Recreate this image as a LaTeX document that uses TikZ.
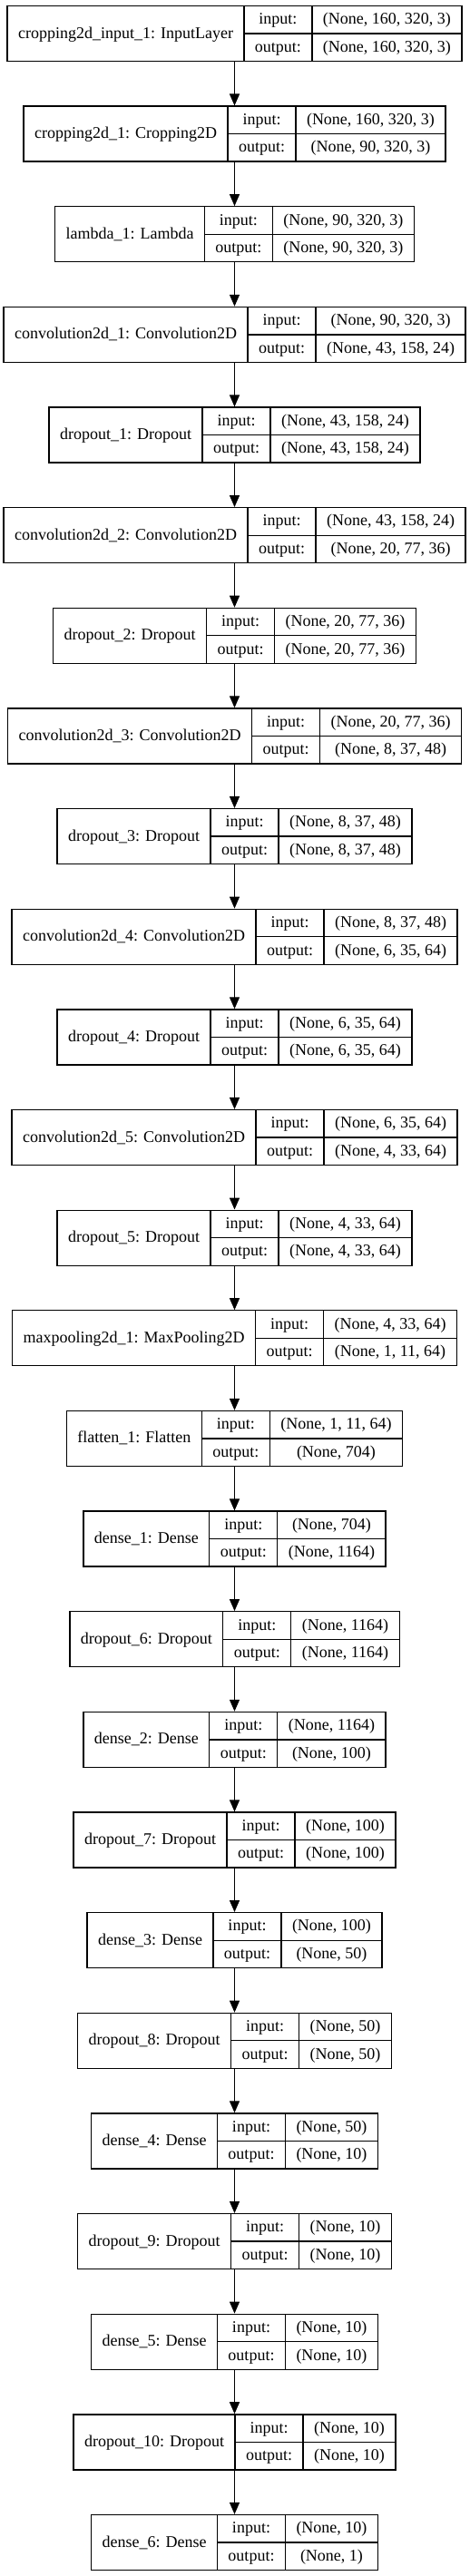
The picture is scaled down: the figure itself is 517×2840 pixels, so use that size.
\documentclass[tikz,border=0pt]{standalone}
\usepackage{fontspec}
\setmainfont{Liberation Serif}
\usetikzlibrary{arrows.meta}
\newlength\wA \newlength\wB \newlength\wC \newlength\wD
\newcommand\lfont{\fontsize{18pt}{22pt}\selectfont}
\newcommand\kpad{24pt}
\tikzset{
  boxshape/.style={draw=black, line width=1.3pt, rectangle, inner sep=0pt},
  divline/.style={draw=black, line width=1.3pt},
  txt/.style={font=\lfont, inner sep=0pt, anchor=base, text=black},
  arr/.style={draw=black, line width=1.3pt, -{Triangle[length=13pt,width=11pt]}}
}
\newcommand\kmeasure[3]{%
 \pgfinterruptpicture
 \setbox0=\hbox{\normalfont\lfont #1}\global\wA=\wd0
 \setbox0=\hbox{\normalfont\lfont output:}\global\wB=\wd0
 \setbox0=\hbox{\normalfont\lfont #2}\global\wC=\wd0
 \setbox0=\hbox{\normalfont\lfont #3}\global\wD=\wd0
 \endpgfinterruptpicture}
\newcommand\klayer[4]{%
 \kmeasure{#2}{#3}{#4}%
 \addtolength\wA{\kpad}%
 \addtolength\wB{\kpad}%
 \ifdim\wD>\wC \wC=\wD\fi\addtolength\wC{\kpad}%
 \pgfmathsetmacro\kx{258.5-(\wA+\wB+\wC)/2}%
 \pgfmathsetmacro\kxa{\kx+\wA}%
 \pgfmathsetmacro\kxb{\kxa+\wB}%
 \pgfmathsetmacro\kxc{\kxb+\wC}%
 \pgfmathsetmacro\ky{6.5+110.64*#1}%
 \pgfmathsetmacro\kyb{\ky+61}%
 \pgfmathsetmacro\kym{\ky+30.5}%
 \pgfmathsetmacro\kw{\kxc-\kx}%
 \node[boxshape, minimum width=\kw pt, minimum height=61pt] (n#1) at ({(\kx+\kxc)/2},\kym) {};
 \draw[divline] (\kxa,\ky) -- (\kxa,\kyb);
 \draw[divline] (\kxb,\ky) -- (\kxb,\kyb);
 \draw[divline] (\kxa,\kym) -- (\kxc,\kym);
 \node[txt] (n#1-name) at ({(\kx+\kxa)/2},\kym+5) {#2};
 \node[txt] (n#1-il) at ({(\kxa+\kxb)/2},\ky+15.25+5) {input:};
 \node[txt] (n#1-ol) at ({(\kxa+\kxb)/2},\ky+45.75+5) {output:};
 \node[txt] (n#1-iv) at ({(\kxb+\kxc)/2},\ky+15.25+5) {#3};
 \node[txt] (n#1-ov) at ({(\kxb+\kxc)/2},\ky+45.75+5) {#4};
}
\begin{document}
\begin{tikzpicture}[x=1pt,y=-1pt]
\useasboundingbox (0,0) rectangle (517,2840);
\klayer{0}{cropping2d\_input\_1: InputLayer}{(None, 160, 320, 3)}{(None, 160, 320, 3)}
\klayer{1}{cropping2d\_1: Cropping2D}{(None, 160, 320, 3)}{(None, 90, 320, 3)}
\klayer{2}{lambda\_1: Lambda}{(None, 90, 320, 3)}{(None, 90, 320, 3)}
\klayer{3}{convolution2d\_1: Convolution2D}{(None, 90, 320, 3)}{(None, 43, 158, 24)}
\klayer{4}{dropout\_1: Dropout}{(None, 43, 158, 24)}{(None, 43, 158, 24)}
\klayer{5}{convolution2d\_2: Convolution2D}{(None, 43, 158, 24)}{(None, 20, 77, 36)}
\klayer{6}{dropout\_2: Dropout}{(None, 20, 77, 36)}{(None, 20, 77, 36)}
\klayer{7}{convolution2d\_3: Convolution2D}{(None, 20, 77, 36)}{(None, 8, 37, 48)}
\klayer{8}{dropout\_3: Dropout}{(None, 8, 37, 48)}{(None, 8, 37, 48)}
\klayer{9}{convolution2d\_4: Convolution2D}{(None, 8, 37, 48)}{(None, 6, 35, 64)}
\klayer{10}{dropout\_4: Dropout}{(None, 6, 35, 64)}{(None, 6, 35, 64)}
\klayer{11}{convolution2d\_5: Convolution2D}{(None, 6, 35, 64)}{(None, 4, 33, 64)}
\klayer{12}{dropout\_5: Dropout}{(None, 4, 33, 64)}{(None, 4, 33, 64)}
\klayer{13}{maxpooling2d\_1: MaxPooling2D}{(None, 4, 33, 64)}{(None, 1, 11, 64)}
\klayer{14}{flatten\_1: Flatten}{(None, 1, 11, 64)}{(None, 704)}
\klayer{15}{dense\_1: Dense}{(None, 704)}{(None, 1164)}
\klayer{16}{dropout\_6: Dropout}{(None, 1164)}{(None, 1164)}
\klayer{17}{dense\_2: Dense}{(None, 1164)}{(None, 100)}
\klayer{18}{dropout\_7: Dropout}{(None, 100)}{(None, 100)}
\klayer{19}{dense\_3: Dense}{(None, 100)}{(None, 50)}
\klayer{20}{dropout\_8: Dropout}{(None, 50)}{(None, 50)}
\klayer{21}{dense\_4: Dense}{(None, 50)}{(None, 10)}
\klayer{22}{dropout\_9: Dropout}{(None, 10)}{(None, 10)}
\klayer{23}{dense\_5: Dense}{(None, 10)}{(None, 10)}
\klayer{24}{dropout\_10: Dropout}{(None, 10)}{(None, 10)}
\klayer{25}{dense\_6: Dense}{(None, 10)}{(None, 1)}
\foreach \i [evaluate=\i as \j using int(\i+1)] in {0,...,24} {
  \draw[arr] (258.5,0 |- n\i.south) -- (258.5,0 |- n\j.north);
}
\end{tikzpicture}
\end{document}
